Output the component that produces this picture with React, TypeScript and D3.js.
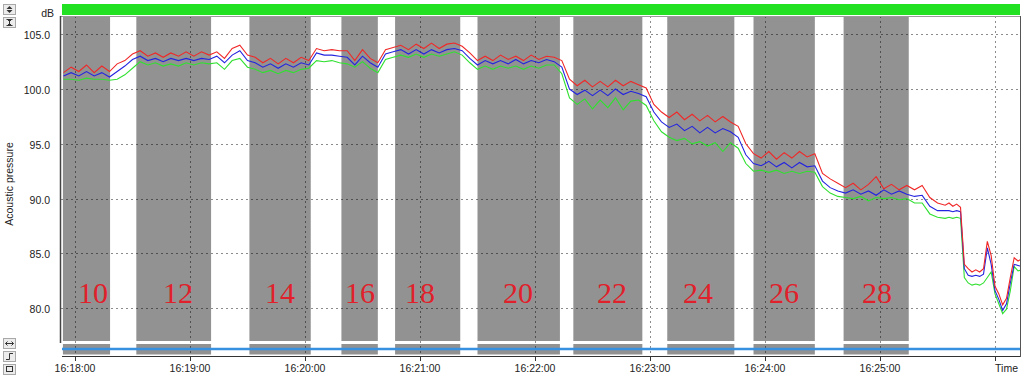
import React from 'react';
import * as d3 from 'd3';

const W = 1024;
const H = 375;

// sample times, seconds after 16:18:00
const times = [
  -6, -2, 2, 6, 10, 14, 18, 22, 26, 30, 34, 38, 42, 46, 50, 54, 58, 62, 66, 70,
  74, 78, 82, 86, 90, 94, 98, 102, 106, 110, 114, 118, 122, 126, 130, 134, 138, 142, 146, 150,
  154, 158, 162, 166, 170, 174, 178, 182, 186, 190, 194, 198, 202, 206, 210, 214, 218, 222, 226, 230,
  234, 238, 242, 246, 250, 254, 258, 262, 266, 270, 274, 278, 282, 286, 290, 294, 298, 302, 306, 310,
  314, 318, 322, 326, 330, 334, 338, 342, 346, 350, 354, 358, 362, 366, 370, 374, 378, 382, 386, 390,
  394, 398, 402, 406, 410, 414, 418, 422, 426, 430, 434, 438, 442, 446, 450, 454,
  456, 458, 460, 462, 464, 466, 468, 470, 472, 474, 476, 478, 480, 482, 484, 486, 488, 490, 492, 494,
];

const redSeries = [
  101.5, 102.0, 101.6, 102.2, 101.5, 102.1, 101.6, 102.3, 102.6, 103.2,
  103.5, 103.0, 103.3, 102.9, 103.3, 103.0, 103.4, 103.0, 103.4, 103.1,
  103.4, 102.8, 103.7, 104.0, 103.1, 102.9, 102.4, 102.8, 102.3, 102.8,
  102.4, 102.9, 102.6, 103.7, 103.5, 103.6, 103.5, 103.5, 102.6, 103.6,
  102.8, 102.4, 103.6, 103.8, 104.0, 103.6, 104.1, 103.7, 104.2, 103.7,
  104.1, 104.2, 103.9, 103.3, 102.6, 103.0, 102.6, 103.1, 102.7, 103.0,
  102.6, 103.1, 102.7, 103.0, 102.9, 102.6, 100.9, 100.3, 100.8, 100.2,
  100.7, 100.2, 100.8, 100.3, 100.7, 100.4, 100.1, 98.6, 97.9, 97.4,
  97.9, 97.2, 97.7, 97.1, 97.6, 97.0, 97.5, 97.0, 96.6, 95.0,
  94.1, 93.7, 94.3, 93.6, 94.2, 93.7, 94.3, 93.8, 94.1, 92.3,
  91.8, 91.4, 91.0, 91.4, 90.8, 91.3, 92.0, 90.9, 91.3, 90.8,
  91.2, 90.8, 91.2, 90.1, 89.6, 89.4,
  89.6, 89.3, 89.5, 89.2, 84.0, 83.6, 83.3, 83.5, 83.3, 83.6,
  86.1, 84.8, 82.0, 81.3, 80.3, 80.9, 82.8, 84.6, 84.3, 84.5,
];

const blueSeries = [
  101.2, 101.5, 101.2, 101.6, 101.2, 101.5, 101.1, 101.6, 102.1, 102.7,
  103.0, 102.6, 102.8, 102.5, 102.8, 102.6, 102.8, 102.6, 102.8, 102.7,
  103.0, 102.4, 103.1, 103.5, 102.6, 102.4, 102.0, 102.3, 101.9, 102.3,
  102.0, 102.4, 102.2, 103.3, 103.1, 103.1, 103.0, 102.9, 102.2, 103.0,
  102.4, 102.0, 103.2, 103.4, 103.6, 103.2, 103.6, 103.2, 103.6, 103.3,
  103.6, 103.7, 103.5, 102.8, 102.2, 102.6, 102.3, 102.6, 102.3, 102.7,
  102.3, 102.6, 102.4, 102.7, 102.5, 102.0, 100.0, 99.5, 99.9, 99.4,
  99.9, 99.4, 100.0, 99.5, 99.8, 99.6, 99.3, 97.9, 97.0, 96.5,
  96.8, 96.2, 96.6, 96.0, 96.5, 96.0, 96.4, 96.1, 95.6, 94.0,
  93.2, 93.0, 93.4, 92.9, 93.3, 92.8, 93.3, 92.9, 93.0, 91.6,
  91.0, 90.7, 90.5, 90.8, 90.4, 90.7, 90.3, 90.8, 90.4, 90.7,
  90.4, 90.2, 90.3, 89.3, 88.9, 88.9,
  88.9, 88.8, 88.9, 88.8, 83.6, 83.0, 82.9, 83.0, 82.9, 83.1,
  85.5, 84.0, 81.6, 80.8, 79.8, 80.4, 82.3, 84.0, 83.9, 83.8,
];

const greenSeries = [
  100.9, 100.9, 100.8, 101.0, 100.9, 100.9, 100.8, 100.9, 101.3, 101.9,
  102.5, 102.2, 102.4, 102.1, 102.3, 102.1, 102.4, 102.2, 102.4, 102.3,
  102.4, 101.8, 102.6, 102.8, 102.0, 101.8, 101.5, 101.7, 101.4, 101.7,
  101.5, 101.8, 101.9, 102.6, 102.5, 102.6, 102.4, 102.3, 102.0, 102.5,
  101.9, 101.5, 102.7, 102.9, 103.1, 102.9, 103.2, 102.9, 103.2, 103.0,
  103.2, 103.4, 103.1, 102.4, 101.8, 102.1, 101.8, 102.1, 101.9, 102.1,
  101.8, 102.1, 101.9, 102.2, 102.2, 101.4, 99.2, 98.6, 99.1, 98.2,
  99.0, 98.3, 99.2, 98.1, 98.9, 99.0, 98.5, 97.1, 96.1, 95.6,
  95.3, 95.5, 95.0, 95.2, 94.8, 95.1, 94.3, 95.1, 94.6, 93.2,
  92.5, 92.6, 92.4, 92.6, 92.3, 92.5, 92.3, 92.5, 92.4, 91.1,
  90.5, 90.2, 90.1, 90.0, 90.2, 89.8, 90.1, 90.0, 90.1, 89.9,
  90.0, 89.6, 89.6, 88.6, 88.3, 88.2,
  88.3, 88.2, 88.3, 88.2, 82.8, 82.3, 82.1, 82.2, 82.1, 82.3,
  82.8, 83.3, 81.3, 80.4, 79.5, 79.9, 81.6, 83.8, 83.4, 83.5,
];

// shaded intervals (seconds after 16:18:00) and their labels
const bandStarts = [-6.3, 32, 91, 139, 167, 210, 260, 309, 354, 401];
const bandEnds = [18.3, 71, 123, 158, 201, 253, 296, 344, 386, 435];
const bandLabels = ['10', '12', '14', '16', '18', '20', '22', '24', '26', '28'];
const labelTimes = [9.4, 53.7, 107.0, 148.7, 180.0, 231.1, 280.2, 325.1, 369.9, 418.4];

const yTicks = [80, 85, 90, 95, 100, 105];
const xTickMinutes = [18, 19, 20, 21, 22, 23, 24, 25];
const xEndMinute = 26;

const yTitle = 'Acoustic pressure';
const yUnit = 'dB';
const xTitle = 'Time';

const base = Date.UTC(2020, 0, 1, 16, 18, 0);
const toDate = (s: number) => new Date(base + s * 1000);

const PL = 61, PR = 1020, PT = 16, PB = 341;

export default function App() {
  const x = d3.scaleUtc().domain([toDate(-7.3), toDate(493.04)]).range([PL, PR]);
  const y = d3.scaleLinear().domain([77.0, 106.67]).range([PB, PT]);
  const fmt = d3.utcFormat('%H:%M:%S');

  const mk = (vals: number[]) =>
    d3.line<number>()
      .x((_, i) => x(toDate(times[i])))
      .y((v) => y(v))(vals) || '';

  const minuteDate = (m: number) => new Date(Date.UTC(2020, 0, 1, 16, m, 0));
  const gridMinutes = [...xTickMinutes, xEndMinute];
  const font = "'Liberation Sans', Arial, sans-serif";

  const btn = (bx: number, by: number, glyph: React.ReactNode, key: string) => (
    <g key={key}>
      <rect x={bx + 0.5} y={by + 0.5} width={12} height={10} fill="#ececec" stroke="#a8a8a8" />
      {glyph}
    </g>
  );

  return (
    <svg width={W} height={H} style={{ position: 'absolute', left: 0, top: 0, background: '#fff' }}
      xmlns="http://www.w3.org/2000/svg">
      <defs>
        <clipPath id="plotClip">
          <rect x={PL} y={PT} width={PR - PL} height={PB - PT} />
        </clipPath>
      </defs>

      {/* top status bar */}
      <rect x={62} y={4} width={958} height={11} fill="#22e022" />

      {/* bands */}
      <g clipPath="url(#plotClip)">
        {bandStarts.map((s, i) => (
          <rect key={'b' + i} x={x(toDate(s))} y={PT + 1} width={x(toDate(bandEnds[i])) - x(toDate(s))}
            height={PB - PT - 1} fill="#929292" />
        ))}
      </g>
      {bandStarts.map((s, i) => (
        <rect key={'lb' + i} x={x(toDate(s))} y={344} width={x(toDate(bandEnds[i])) - x(toDate(s))}
          height={10.5} fill="#929292" />
      ))}

      {/* grid */}
      {yTicks.map((t) => (
        <line key={'gy' + t} x1={PL} x2={PR} y1={Math.round(y(t)) + 0.5} y2={Math.round(y(t)) + 0.5}
          stroke="#000" strokeOpacity={0.45} strokeDasharray="2,3" />
      ))}
      {gridMinutes.map((m) => (
        <line key={'gx' + m} x1={Math.round(x(minuteDate(m))) + 0.5} x2={Math.round(x(minuteDate(m))) + 0.5}
          y1={PT} y2={356} stroke="#000" strokeOpacity={0.45} strokeDasharray="2,3" />
      ))}

      {/* lower strip line */}
      <line x1={62} x2={PR} y1={349} y2={349} stroke="#3890e0" strokeWidth={2.5} />

      {/* frame */}
      <line x1={PL} x2={PR} y1={PT + 0.5} y2={PT + 0.5} stroke="#9a9a9a" />
      <line x1={PR + 0.5} x2={PR + 0.5} y1={PT} y2={357} stroke="#555" />
      <line x1={60.5} x2={60.5} y1={PT} y2={343} stroke="#444" strokeWidth={1.5} />
      <line x1={62} x2={PR} y1={356.5} y2={356.5} stroke="#333" />

      {/* series */}
      <g clipPath="url(#plotClip)" fill="none" strokeWidth={1.1}>
        <path d={mk(greenSeries)} stroke="#30e030" />
        <path d={mk(blueSeries)} stroke="#2424e0" />
        <path d={mk(redSeries)} stroke="#f02828" />
      </g>

      {/* band labels */}
      {bandLabels.map((l, i) => (
        <text key={'l' + i} x={x(toDate(labelTimes[i]))} y={303}
          textAnchor="middle" fontFamily="'Liberation Serif', 'Times New Roman', serif" fontSize={30}
          fill="#e0202a">{l}</text>
      ))}

      {/* y axis labels */}
      {yTicks.map((t) => (
        <text key={'ty' + t} x={50} y={Math.round(y(t)) + 4.5} textAnchor="end" fontFamily={font}
          fontSize={10.5} fill="#222">{t.toFixed(1)}</text>
      ))}
      <text x={54} y={17} textAnchor="end" fontFamily={font} fontSize={10.5} fill="#222">{yUnit}</text>
      <text transform={`translate(13,184) rotate(-90)`} textAnchor="middle"
        fontFamily={font} fontSize={10.5} fill="#222">{yTitle}</text>

      {/* x axis ticks */}
      {gridMinutes.map((m) => (
        <line key={'tk' + m} x1={Math.round(x(minuteDate(m))) + 0.5} x2={Math.round(x(minuteDate(m))) + 0.5}
          y1={357} y2={361} stroke="#333" />
      ))}
      {xTickMinutes.map((m) => (
        <text key={'tx' + m} x={x(minuteDate(m))} y={372} textAnchor="middle" fontFamily={font}
          fontSize={10.5} fill="#222">{fmt(minuteDate(m))}</text>
      ))}
      <text x={1018} y={372} textAnchor="end" fontFamily={font} fontSize={10.5} fill="#222">{xTitle}</text>

      {/* toolbar buttons */}
      {btn(3, 4, <path d="M9.5 6 L6.5 9 H12.5 Z M9.5 13 L6.5 10 H12.5 Z" fill="#333" />, 'b1')}
      {btn(3, 17, <path d="M6.5 19.5 H12.5 M6.5 25.5 H12.5 M9.5 19.5 V25.5 M8 21 L9.5 19.5 L11 21 M8 24 L9.5 25.5 L11 24" stroke="#333" fill="none" />, 'b2')}
      {btn(3, 338, <path d="M5.5 343.5 H13.5 M5.5 343.5 L7.5 341.5 M5.5 343.5 L7.5 345.5 M13.5 343.5 L11.5 341.5 M13.5 343.5 L11.5 345.5" stroke="#333" fill="none" />, 'b3')}
      {btn(3, 351, <path d="M6 359.5 H9.5 V353.5 H13" stroke="#333" fill="none" />, 'b4')}
      {btn(3, 364, <rect x={6.5} y={366.5} width={6} height={5} stroke="#333" fill="none" />, 'b5')}
    </svg>
  );
}
